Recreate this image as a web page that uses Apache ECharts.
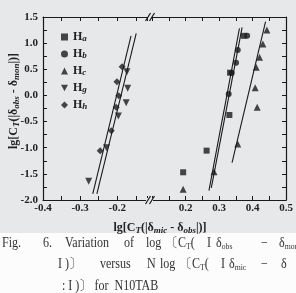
<!DOCTYPE html>
<html><head><meta charset="utf-8">
<script src="https://cdn.jsdelivr.net/npm/echarts@6/dist/echarts.min.js"></script>
<style>html,body{margin:0;padding:0;background:#fcfcfc}#c{width:296px;height:293px}</style>
</head><body><div id="c"></div>
<script>
const legendNames = ['Ha','Hb','Hc','Hg','Hh'];
const yTickLabels = ['-2.0','-1.5','-1.0','-0.5','0.0','0.5','1.0','1.5'];
const xLeftLabels = ['-0.4','-0.3','-0.2'];
const xRightLabels = ['0.2','0.3','0.4','0.5'];
const HaData = [[0.193,-1.47],[0.263,-1.056],[0.331,-0.374],[0.333,0.435],[0.374,1.14]];
const HbData = [[0.329,0.028],[0.338,0.43],[0.351,0.626],[0.356,0.869],[0.384,1.14]];
const HcData = [[0.193,-1.795],[0.285,-1.458],[0.356,-0.93],[0.414,-0.227],[0.408,0.148],[0.411,0.538],[0.421,0.729],[0.431,0.984],[0.443,1.25]];
const HgData = [[-0.277,-1.641],[-0.229,-0.999],[-0.197,-0.393],[-0.176,-0.139],[-0.172,0.137],[-0.174,0.454]];
const HhData = [[-0.246,-1.056],[-0.216,-0.674],[-0.203,-0.227],[-0.196,-0.005],[-0.201,0.263],[-0.187,0.55]];
const HaFit = [[0.270,-1.821],[0.361,1.284]];
const HbFit = [[0.277,-1.77],[0.369,1.303]];
const HcFit = [[0.339,-1.286],[0.439,1.41]];
const HgFit = [[-0.255,-1.884],[-0.149,1.188]];
const HhFit = [[-0.266,-1.884],[-0.163,1.137]];

const serif = 'Liberation Serif';
const ink = '#1a1a1a';
const fmt = (list) => (v) => { const s = v.toFixed(1); return (list.includes(s) && Math.abs(v*10-Math.round(v*10))<1e-6) ? s : ''; };
const lblStyle = {fontFamily: serif, fontWeight: 'bold', fontSize: 11, color: '#222'};
function xAx(grid, pos, min, max, labels) {
  return {type:'value', gridIndex:grid, position:pos, min:min, max:max, interval:0.05,
    axisLine:{show:true, onZero:false, lineStyle:{color:ink, width:1.2}},
    axisTick:{show:true, inside:true, length:4, lineStyle:{color:ink}},
    splitLine:{show:false},
    axisLabel:{show: pos==='bottom', margin:3, formatter: fmt(labels), ...lblStyle, showMinLabel:true, showMaxLabel:true}};
}
function yAx(grid, pos, showLabels) {
  return {type:'value', gridIndex:grid, position:pos, min:-2, max:1.5, interval:0.25,
    axisLine:{show:true, onZero:false, lineStyle:{color:ink, width:1.2}},
    axisTick:{show:true, inside:true, length:4, lineStyle:{color:ink}},
    splitLine:{show:false},
    axisLabel:{show:showLabels, margin:5, formatter: fmt(yTickLabels), ...lblStyle}};
}
const downTri = 'path://M0,0L10,0L5,9Z';
function sc(name, data, symbol, size, xi, yi) {
  return {name:name, type:'scatter', data:data, symbol:symbol, symbolSize:size, xAxisIndex:xi, yAxisIndex:yi,
    itemStyle:{color:ink}, z:5};
}
function fit(data, xi, yi) {
  return {type:'line', data:data, xAxisIndex:xi, yAxisIndex:yi, symbol:'none', silent:true,
    lineStyle:{color:ink, width:1.1}, z:4};
}
const subRich = {
  n:{fontFamily:serif, fontWeight:'bold', fontSize:12, color:'#222'},
  s:{fontFamily:serif, fontWeight:'bold', fontStyle:'italic', fontSize:9, color:'#222', verticalAlign:'bottom', padding:[6,0,0,0]}
};
const capRich = {
  s:{fontFamily:serif, fontSize:9, color:'#333', padding:[7,0,0,0]}
};
const capSegs = [
  [2,243,'Fig.'],[43,243,'6.'],[65,243,'Variation'],[124,243,'of'],[146,243,'log'],[166,243,'〔C{s|T}('],[207,243,'I'],[216,243,'δ{s|obs}'],[261,243,'−'],[279,243,'δ{s|mon}'],
  [58,264,'I )〕'],[100,264,'versus'],[147,264,'N'],[160,264,'log'],[180,264,'〔C{s|T}('],[221,264,'I'],[229,264,'δ{s|mic}'],[261,264,'−'],[281,264,'δ'],
  [62,286,': I )〕 for  N10TAB']
];
const graphics = [
  {type:'rect', shape:{x:0,y:0,width:296,height:233}, style:{fill:'#e6e8ea'}, z:-10, silent:true},
  {type:'line', shape:{x1:145.5,y1:21,x2:150.5,y2:13}, style:{stroke:ink, lineWidth:1.2}, z:10},
  {type:'line', shape:{x1:149.5,y1:21,x2:154.5,y2:13}, style:{stroke:ink, lineWidth:1.2}, z:10},
  {type:'rect', shape:{x:146,y:198,width:7,height:4}, style:{fill:'#e6e8ea'}, z:9},
  {type:'line', shape:{x1:145.5,y1:204,x2:150.5,y2:196}, style:{stroke:ink, lineWidth:1.2}, z:10},
  {type:'line', shape:{x1:149.5,y1:204,x2:154.5,y2:196}, style:{stroke:ink, lineWidth:1.2}, z:10},
  {type:'text', x:160, y:228, z:10, style:{text:'lg[C{s|T}(|δ{s|mic} - δ{s|obs}|)]', align:'center', verticalAlign:'middle',
    font:'bold 12px "Liberation Serif"', fill:'#222', rich:subRich}},
  {type:'text', x:14, y:101, rotation:Math.PI/2, z:10, style:{text:'lg[C{s|T}(|δ{s|obs} - δ{s|mon}|)]', align:'center', verticalAlign:'middle',
    font:'bold 12px "Liberation Serif"', fill:'#222', rich:subRich}}
];
capSegs.forEach(([x,y,t]) => graphics.push({type:'text', x:x, y:y, scaleX:0.86, z:10, style:{text:t, verticalAlign:'middle', align:'left',
  font:'14px "Liberation Serif"', fill:'#333', rich:capRich}}));

const chart = echarts.init(document.getElementById('c'), null, {renderer:'canvas'});
chart.setOption({
  animation:false,
  backgroundColor:'#fcfcfc',
  grid:[
    {left:43, top:17, width:104, height:183},
    {left:152, top:17, width:134, height:183}
  ],
  xAxis:[
    xAx(0,'bottom',-0.4,-0.12,xLeftLabels),
    xAx(1,'bottom',0.1,0.5,xRightLabels),
    xAx(0,'top',-0.4,-0.12,[]),
    xAx(1,'top',0.1,0.5,[])
  ],
  yAxis:[ yAx(0,'left',true), yAx(1,'right',false) ],
  legend:{data:legendNames, orient:'vertical', left:56, top:26, itemWidth:7, itemHeight:7, itemGap:5,
    formatter:(n)=>'{n|H}{s|'+n.slice(1)+'}',
    textStyle:{rich:subRich, lineHeight:12}},
  series:[
    sc('Ha', HaData, 'rect', 6, 1, 1),
    sc('Hb', HbData, 'circle', 6, 1, 1),
    sc('Hc', HcData, 'triangle', 7, 1, 1),
    sc('Hg', HgData, downTri, 7, 0, 0),
    sc('Hh', HhData, 'diamond', 7, 0, 0),
    fit(HaFit,1,1), fit(HbFit,1,1), fit(HcFit,1,1), fit(HgFit,0,0), fit(HhFit,0,0)
  ],
  graphic:graphics
});
</script></body></html>
